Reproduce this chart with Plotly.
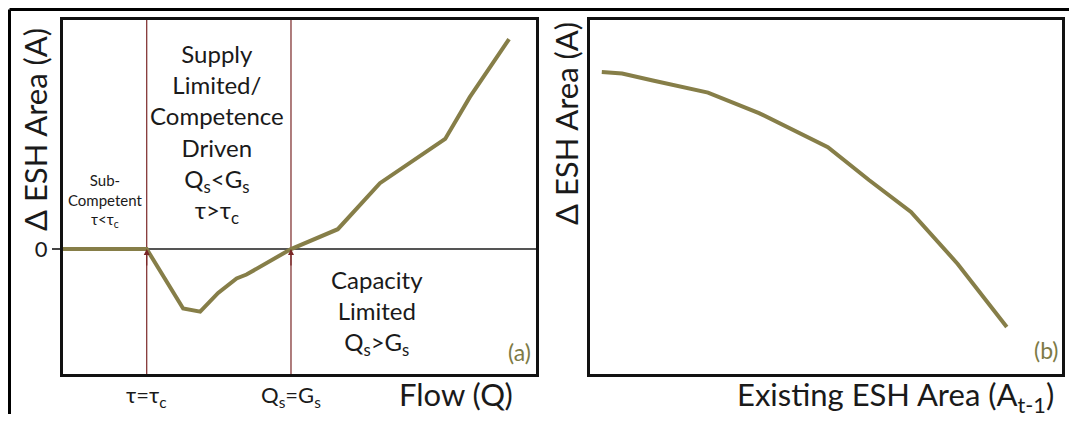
import plotly.graph_objects as go

# The page body has an 8px margin, so the figure is drawn 8px in from the corner.
OFF = 8
W, H = 1077 - 2 * OFF, 422 - 2 * OFF

# ---- data (panel a): Flow vs change in ESH area ----
flow_x = [0, 17.7, 25.4, 29.0, 32.8, 36.7, 38.8, 48.2, 58.1, 67.0, 80.8, 86.0, 94.3]
dA_a = [0, 0, -16.8, -17.7, -12.4, -8.3, -7.2, 0, 5.6, 18.6, 31.1, 42.9, 59.3]
threshold_x = [17.7, 48.2]
threshold_labels = ["τ=τ<sub>c</sub>", "Q<sub>s</sub>=G<sub>s</sub>"]

# ---- data (panel b): existing ESH area vs change in ESH area ----
exist_x = [2.5, 6.8, 13.3, 25.0, 35.8, 50.4, 59.1, 68.0, 77.9, 88.3]
dA_b = [85.3, 84.9, 82.9, 79.5, 73.7, 64.1, 54.8, 45.8, 31.1, 13.3]

OLIVE = "#867e48"
ARROW = "#7a2626"
TXT = "#1a1a1a"
FONT = "Lato"

def px(x):
    return (x - OFF) / W

def py(y):
    return 1 - (y - OFF) / H

fig = go.Figure()
fig.add_trace(go.Scatter(x=flow_x, y=dA_a, mode="lines",
                         line=dict(color=OLIVE, width=4), xaxis="x", yaxis="y",
                         showlegend=False, hoverinfo="skip"))
fig.add_trace(go.Scatter(x=exist_x, y=dA_b, mode="lines",
                         line=dict(color=OLIVE, width=4), xaxis="x2", yaxis="y2",
                         showlegend=False, hoverinfo="skip"))

ydom = [py(374), py(20)]
axis_common = dict(showline=True, mirror=True, linecolor="#111", linewidth=3,
                   showgrid=False, fixedrange=True)
fig.update_layout(
    width=W, height=H,
    margin=dict(l=0, r=0, t=0, b=0),
    paper_bgcolor="white", plot_bgcolor="white",
    font=dict(family=FONT, color=TXT),
    xaxis=dict(domain=[px(63), px(536)], range=[0, 100], showticklabels=False,
               ticks="", zeroline=False, **axis_common),
    yaxis=dict(domain=ydom, range=[-35.3, 64.7], tickvals=[0], ticktext=["0"],
               ticks="outside", ticklen=8, tickwidth=1.5, tickcolor="#444",
               tickfont=dict(size=22, color=TXT, family=FONT),
               zeroline=True, zerolinecolor="#555", zerolinewidth=1.5,
               **axis_common),
    xaxis2=dict(domain=[px(590), px(1062)], range=[0, 100], showticklabels=False,
                ticks="", zeroline=False, anchor="y2", **axis_common),
    yaxis2=dict(domain=ydom, range=[0, 100], showticklabels=False, ticks="",
                zeroline=False, anchor="x2", **axis_common),
)

shapes = []
# outer frame lines (top and left)
shapes.append(dict(type="line", xref="paper", yref="paper", x0=px(9.5), x1=1,
                   y0=py(9.5), y1=py(9.5), line=dict(color="black", width=3)))
shapes.append(dict(type="line", xref="paper", yref="paper", x0=px(9.5), x1=px(9.5),
                   y0=py(9.5), y1=0, line=dict(color="black", width=3)))
# threshold lines
for tx in threshold_x:
    shapes.append(dict(type="line", xref="x", yref="y domain", x0=tx, x1=tx,
                       y0=0, y1=1, line=dict(color=ARROW, width=1.2), layer="below"))
fig.update_layout(shapes=shapes)

ann = []
# arrow heads at zero crossing
for tx in threshold_x:
    ann.append(dict(x=tx, y=0, xref="x", yref="y", text="", showarrow=True,
                    ax=0, ay=18, arrowhead=2, arrowsize=1, arrowwidth=1.2,
                    arrowcolor=ARROW))
# threshold labels below axis
for tx, lab in zip(threshold_x, threshold_labels):
    ann.append(dict(x=tx, y=py(396), xref="x", yref="paper", text=lab,
                    showarrow=False, font=dict(size=22, color=TXT, family=FONT),
                    xanchor="center", yanchor="middle"))

def text(x, y, s, size, color=TXT, angle=0, align="center"):
    ann.append(dict(x=px(x), y=py(y), xref="paper", yref="paper", text=s,
                    showarrow=False, textangle=angle, align=align,
                    font=dict(size=size, color=color, family=FONT),
                    xanchor="center", yanchor="middle"))

text(35, 130, "Δ ESH Area (A)", 31, angle=-90)
text(566, 124, "Δ ESH Area (A)", 31, angle=-90)
text(105, 201, "Sub-<br>Competent<br>τ<τ<sub>c</sub>", 15)
text(217, 134, "Supply<br>Limited/<br>Competence<br>Driven<br>Q<sub>s</sub><G<sub>s</sub><br>τ>τ<sub>c</sub>", 24)
text(377, 312, "Capacity<br>Limited<br>Q<sub>s</sub>>G<sub>s</sub>", 24)
text(519, 352, "(a)", 23, color="#7d7a45")
text(1046, 350, "(b)", 23, color="#7d7a45")
text(456, 394, "Flow (Q)", 31)
text(895, 396, "Existing ESH Area (A<sub>t-1</sub>)", 31)

fig.update_layout(annotations=ann)
fig.write_html("out.html")
